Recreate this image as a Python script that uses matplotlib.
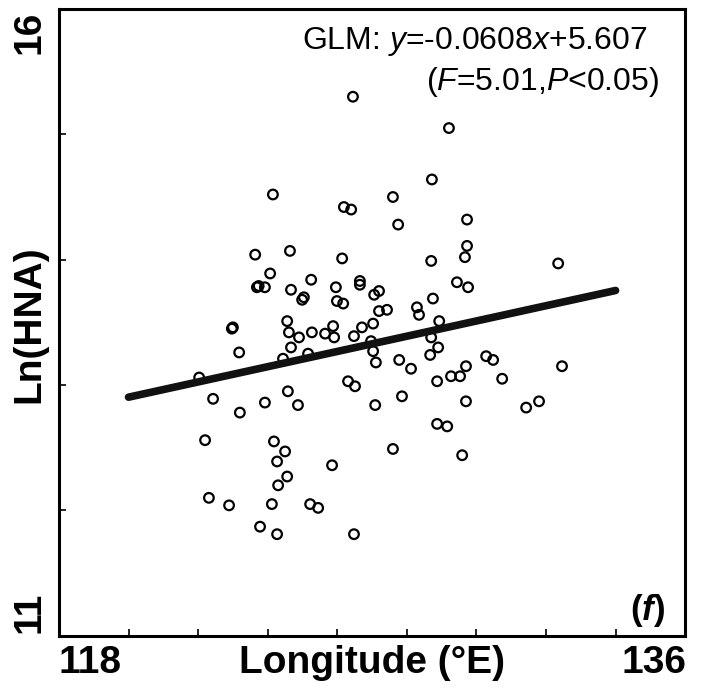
import numpy as np
import matplotlib.pyplot as plt

plt.rcParams['font.family'] = ['Liberation Sans', 'DejaVu Sans']
plt.rcParams['mathtext.fontset'] = 'custom'
plt.rcParams['mathtext.rm'] = 'Liberation Sans'
plt.rcParams['mathtext.it'] = 'Liberation Sans:italic'
plt.rcParams['mathtext.bf'] = 'Liberation Sans:bold'
plt.rcParams['mathtext.bfit'] = 'Liberation Sans:italic:bold'

# longitude (°E) and Ln(HNA)
lon = np.array([
    126.45, 129.21, 124.15, 128.72, 127.60, 126.19, 126.40, 127.75, 129.73, 129.73,
    129.67, 128.70, 132.35, 123.64, 124.64, 126.14, 124.07, 125.25, 123.69, 123.74,
    123.92, 124.67, 125.96, 124.99, 125.04, 125.99, 126.17, 126.65, 126.65, 127.20,
    127.06, 129.44, 129.76, 128.75, 127.20, 127.43, 128.29, 128.35, 128.93, 125.88,
    126.71, 127.03, 125.91, 126.48, 126.97, 128.70, 128.90, 122.97, 123.00, 124.56,
    124.61, 124.90, 125.27, 125.65, 124.67, 123.18, 124.44, 125.16, 122.03, 122.43,
    123.20, 123.92, 124.58, 124.87, 126.31, 126.51, 127.03, 127.11, 127.78, 128.12,
    128.67, 128.87, 129.27, 129.53, 129.70, 130.28, 130.48, 130.74, 132.46, 127.86,
    127.09, 129.70, 131.43, 131.80, 128.87, 129.16, 127.60, 129.59, 122.20, 124.18,
    124.50, 124.27, 124.56, 124.30, 125.85, 122.31, 122.89, 124.12, 125.22, 125.45,
    123.78, 124.27, 126.48])
ln_hna = np.array([
    15.30, 15.05, 14.52, 14.64, 14.50, 14.42, 14.40, 14.28, 14.32, 14.11,
    14.02, 13.99, 13.97, 14.04, 14.07, 14.01, 13.89, 13.84, 13.78, 13.79,
    13.78, 13.76, 13.78, 13.68, 13.70, 13.67, 13.65, 13.83, 13.80, 13.75,
    13.72, 13.82, 13.78, 13.69, 13.59, 13.60, 13.62, 13.56, 13.51, 13.47,
    13.46, 13.49, 13.38, 13.39, 13.35, 13.38, 13.30, 13.45, 13.46, 13.51,
    13.42, 13.38, 13.42, 13.41, 13.30, 13.26, 13.21, 13.25, 13.06, 12.89,
    12.78, 12.86, 12.95, 12.84, 13.03, 12.99, 13.27, 13.18, 13.20, 13.13,
    13.24, 13.03, 13.07, 13.07, 13.15, 13.23, 13.20, 13.05, 13.15, 12.91,
    12.84, 12.87, 12.82, 12.87, 12.69, 12.67, 12.49, 12.44, 12.56, 12.55,
    12.47, 12.39, 12.27, 12.20, 12.36, 12.10, 12.04, 12.05, 12.05, 12.02,
    11.87, 11.81, 11.81])

# fitted line
slope = 0.0608
intercept = 5.607
fit_x = np.array([120, 134])

fig = plt.figure(figsize=(7.02, 6.91), dpi=100)
ax = fig.add_axes([0.084, 0.080, 0.892, 0.907])

ax.scatter(lon, ln_hna, s=48, facecolors='none', edgecolors='black', linewidths=1.6, zorder=2)
ax.plot(fit_x, slope * fit_x + intercept, color='#111111', linewidth=5.5,
        solid_capstyle='round', zorder=3)

ax.set_xlim(118, 136)
ax.set_ylim(11, 16)
ax.set_xticks(np.arange(120, 135, 2))
ax.set_yticks(np.arange(12, 16, 1))
ax.tick_params(direction='in', length=5, width=1.2, labelbottom=False, labelleft=False)
for sp in ax.spines.values():
    sp.set_linewidth(2.2)

big = dict(fontsize=28, fontweight='bold')
ax.text(0.05, -0.015, '118', transform=ax.transAxes, ha='center', va='top', **big)
ax.text(0.95, -0.015, '136', transform=ax.transAxes, ha='center', va='top', **big)
ax.text(0.5, -0.015, 'Longitude (°E)', transform=ax.transAxes, ha='center', va='top', **big)
ax.text(-0.019, 0.962, '16', transform=ax.transAxes, ha='right', va='center', rotation=90, **big)
ax.text(-0.019, 0.038, '11', transform=ax.transAxes, ha='right', va='center', rotation=90, **big)
ax.text(-0.019, 0.497, 'Ln(HNA)', transform=ax.transAxes, ha='right', va='center', rotation=90, **big)

ax.text(0.94, 0.948, 'GLM: $y$=-0.0608$x$+5.607', transform=ax.transAxes,
        ha='right', va='center', fontsize=23)
ax.text(0.958, 0.883, '($F$=5.01,$P$<0.05)', transform=ax.transAxes,
        ha='right', va='center', fontsize=23)
ax.text(0.94, 0.04, r'($\boldsymbol{f}$)', transform=ax.transAxes,
        ha='center', va='center', fontsize=25, fontweight='bold')

fig.savefig('out.png', dpi=100)
